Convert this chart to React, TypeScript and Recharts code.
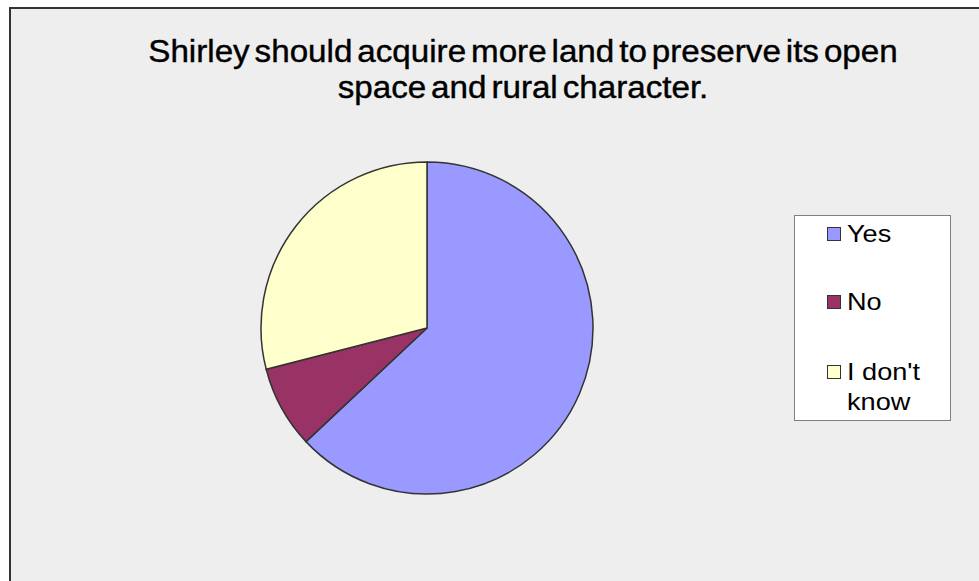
import React from "react";
import { PieChart, Pie, Cell, Legend } from "recharts";

const answers = ["Yes", "No", "I don't know"];
const shares = [63, 8, 29];
const sliceColors = ["#9999ff", "#993366", "#ffffcc"];

const titleLines = [
  "Shirley should acquire more land to preserve its open",
  "space and rural character.",
];

const data = answers.map((name, i) => ({ name, value: shares[i] }));

// legend item tops inside the box
const itemTops = [3, 71, 141];

function LegendBox(props: any) {
  // keep the legend in the data order (Yes, No, I don't know)
  const items = [...(props.payload || [])].sort(
    (a: any, b: any) => answers.indexOf(a.value) - answers.indexOf(b.value)
  );
  return (
    <div
      style={{
        position: "relative",
        width: 155,
        height: 204,
        background: "#ffffff",
        border: "1px solid #7f7f7f",
        fontFamily: "'Liberation Sans', Arial, sans-serif",
        fontSize: 24,
        lineHeight: "30px",
        color: "#000",
      }}
    >
      {items.map((entry: any, i: number) => (
        <div
          key={entry.value}
          style={{ position: "absolute", left: 32, top: itemTops[i], display: "flex" }}
        >
          <div
            style={{
              width: 12,
              height: 12,
              marginTop: 8,
              marginRight: 6,
              flex: "0 0 auto",
              background: entry.color,
              border: "1px solid #333",
            }}
          />
          <div
            style={{
              width: 92,
              transform: "scaleX(1.13)",
              transformOrigin: "left center",
            }}
          >
            {entry.value}
          </div>
        </div>
      ))}
    </div>
  );
}

export default function App() {
  return (
    <div
      style={{
        position: "absolute",
        left: 9,
        top: 7,
        width: 968,
        height: 572,
        background: "#eeeeee",
        borderLeft: "2px solid #333",
        borderTop: "2px solid #333",
        overflow: "hidden",
      }}
    >
      <div
        style={{
          position: "absolute",
          left: 112,
          top: 25,
          width: 800,
          textAlign: "center",
          fontFamily: "'Liberation Sans', Arial, sans-serif",
          fontSize: 31,
          lineHeight: "36px",
          wordSpacing: -4,
          color: "#000",
          WebkitTextStroke: "0.4px #000",
          transform: "scaleX(1.07)",
          transformOrigin: "center",
          zIndex: 2,
        }}
      >
        {titleLines.map((t) => (
          <div key={t}>{t}</div>
        ))}
      </div>
      <PieChart width={968} height={572} margin={{ top: 0, right: 0, bottom: 0, left: 0 }}>
        <Pie
          data={data}
          dataKey="value"
          nameKey="name"
          cx={416}
          cy={319}
          outerRadius={166}
          startAngle={90}
          endAngle={-270}
          stroke="#333"
          strokeWidth={1.5}
          isAnimationActive={false}
          label={false}
        >
          {data.map((d, i) => (
            <Cell key={d.name} fill={sliceColors[i]} />
          ))}
        </Pie>
        <Legend
          layout="vertical"
          align="right"
          verticalAlign="top"
          content={<LegendBox />}
          wrapperStyle={{ left: 783, top: 206, width: 157, height: 206, right: "auto" }}
        />
      </PieChart>
    </div>
  );
}
